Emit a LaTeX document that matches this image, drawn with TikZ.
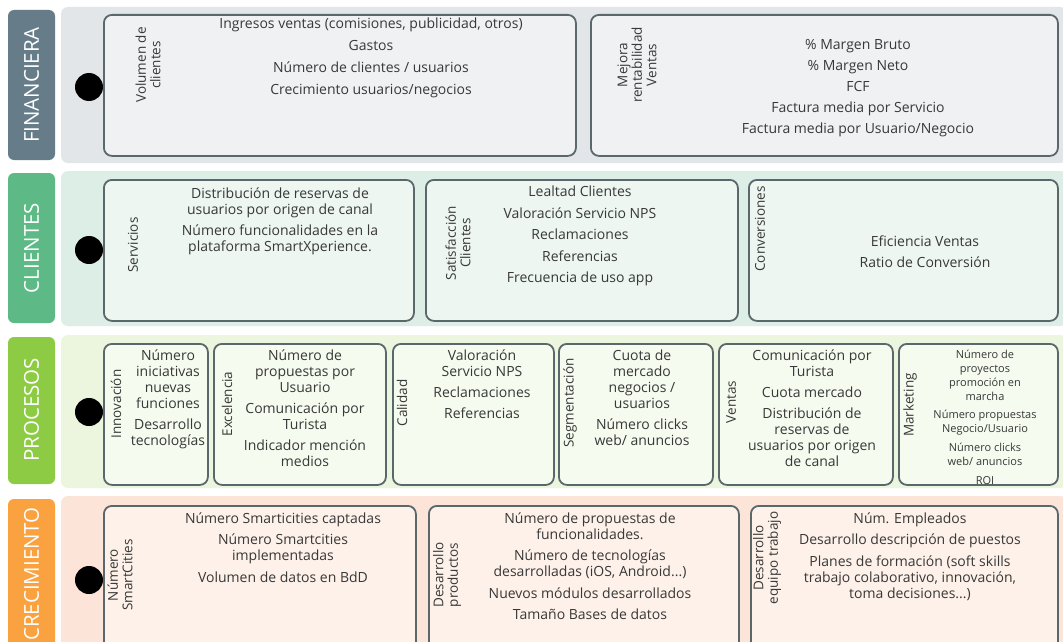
\documentclass[tikz,border=0pt]{standalone}
\usepackage{fontspec}
\setmainfont{Open Sans}

\definecolor{tabfin}{HTML}{667D89}
\definecolor{bandfin}{HTML}{E3E6E8}
\definecolor{boxfin}{HTML}{F0F1F3}
\definecolor{tabcli}{HTML}{5DB985}
\definecolor{bandcli}{HTML}{DCEEE5}
\definecolor{boxcli}{HTML}{EDF6F1}
\definecolor{tabpro}{HTML}{8DCB45}
\definecolor{bandpro}{HTML}{ECF5DE}
\definecolor{boxpro}{HTML}{F6FBEF}
\definecolor{tabcre}{HTML}{F9A23F}
\definecolor{bandcre}{HTML}{FCE5D8}
\definecolor{boxcre}{HTML}{FDF1E9}
\definecolor{boxline}{HTML}{5A686C}
\definecolor{txt}{HTML}{383838}

\begin{document}
\begin{tikzpicture}[x=1pt,y=-1pt,
        band/.style={rounded corners=7pt},
        tab/.style={rounded corners=6pt},
        tabtext/.style={rotate=90,text=white,font=\fontsize{20.5}{20.5}\selectfont},
        kpibox/.style={draw=boxline,line width=1.8pt,rounded corners=8pt,anchor=north west,inner sep=0pt},
        dot/.style={circle,fill=black,minimum size=28pt,inner sep=0pt},
        side/.style={rotate=90,align=center,text=txt,font=\fontsize{13.5}{14.5}\selectfont},
        kpi/.style={anchor=north,inner sep=0pt,align=center,text=txt,font=\fontsize{14}{16}\selectfont},
        kpismall/.style={kpi,font=\fontsize{11}{13.8}\selectfont}]

    \useasboundingbox (0,0) rectangle (1063,642);
    \clip (0,0) rectangle (1063,642);
    \fill[white] (0,0) rectangle (1063,642);

    % FINANCIERA
    \fill[bandfin,band] (61,7) rectangle (1067,163);
    \fill[tabfin,tab] (8,10) rectangle (55,160);
    \node[tabtext] (tfin) at (31.5,85) {FINANCIERA};
    \node[dot] (dfin) at (89,87) {};
    \node[kpibox,fill=boxfin,minimum width=472pt,minimum height=141pt] (fvol) at (103,14) {};
    \node[kpibox,fill=boxfin,minimum width=467pt,minimum height=141pt] (frent) at (590,14) {};
    \node[side] (fvol-l) at (148,65) {Volumen de\\clientes};
    \node[kpi] (fvol-t) at (371,18) {Ingresos ventas (comisiones, publicidad, otros)\\[6pt]
        Gastos\\[6pt] Número de clientes / usuarios\\[6pt] Crecimiento usuarios/negocios};
    \node[side] (frent-l) at (637,65) {Mejora\\rentabilidad\\Ventas};
    \node[kpi] (frent-t) at (858,39.5) {\% Margen Bruto\\[5pt] \% Margen Neto\\[5pt] FCF\\[5pt]
        Factura media por Servicio\\[5pt] Factura media por Usuario/Negocio};

    % CLIENTES
    \fill[bandcli,band] (61,171) rectangle (1067,326);
    \fill[tabcli,tab] (8,173) rectangle (55,323);
    \node[tabtext] (tcli) at (31.5,248) {CLIENTES};
    \node[dot] (dcli) at (89,250) {};
    \node[kpibox,fill=boxcli,minimum width=310pt,minimum height=141pt] (cserv) at (103,179) {};
    \node[kpibox,fill=boxcli,minimum width=312pt,minimum height=141pt] (csat) at (425,179) {};
    \node[kpibox,fill=boxcli,minimum width=309pt,minimum height=141pt] (cconv) at (748,179) {};
    \node[side] (cserv-l) at (133,245) {Servicios};
    \node[kpi] (cserv-t) at (280,188) {Distribución de reservas de\\ usuarios por origen de canal\\[5pt]
        Número funcionalidades en la\\ plataforma SmartXperience.};
    \node[side] (csat-l) at (458,243) {Satisfacción\\Clientes};
    \node[kpi] (csat-t) at (580,186) {Lealtad Clientes\\[5.5pt] Valoración Servicio NPS\\[5.5pt]
        Reclamaciones\\[5.5pt] Referencias\\[5.5pt] Frecuencia de uso app};
    \node[side] (cconv-l) at (760,229) {Conversiones};
    \node[kpi] (cconv-t) at (925,235.5) {Eficiencia Ventas\\[5.5pt] Ratio de Conversión};

    % PROCESOS
    \fill[bandpro,band] (61,335) rectangle (1067,488);
    \fill[tabpro,tab] (8,337) rectangle (55,484);
    \node[tabtext] (tpro) at (31.5,410) {PROCESOS};
    \node[dot] (dpro) at (89,412) {};
    \node[kpibox,fill=boxpro,minimum width=104pt,minimum height=141pt] (pinno) at (103,343) {};
    \node[kpibox,fill=boxpro,minimum width=172pt,minimum height=141pt] (pexc) at (213,343) {};
    \node[kpibox,fill=boxpro,minimum width=161pt,minimum height=141pt] (pcal) at (392,343) {};
    \node[kpibox,fill=boxpro,minimum width=154pt,minimum height=141pt] (pseg) at (558,343) {};
    \node[kpibox,fill=boxpro,minimum width=174pt,minimum height=141pt] (pven) at (718,343) {};
    \node[kpibox,fill=boxpro,minimum width=159pt,minimum height=141pt] (pmkt) at (898,343) {};
    \node[side] (pinno-l) at (116,404) {Innovación};
    \node[kpi] (pinno-t) at (168,349.5) {Número\\ iniciativas\\ nuevas\\ funciones\\[5pt] Desarrollo\\ tecnologías};
    \node[side] (pexc-l) at (227,404) {Excelencia};
    \node[kpi] (pexc-t) at (305,350) {Número de\\ propuestas por\\ Usuario\\[5pt] Comunicación por\\ Turista\\[5pt]
        Indicador mención\\ medios};
    \node[side] (pcal-l) at (402,403) {Calidad};
    \node[kpi] (pcal-t) at (482,349.5) {Valoración\\ Servicio NPS\\[5pt] Reclamaciones\\[5pt] Referencias};
    \node[side] (pseg-l) at (570,403) {Segmentación};
    \node[kpi] (pseg-t) at (642,349.5) {Cuota de\\ mercado\\ negocios /\\ usuarios\\[5pt] Número clicks\\ web/ anuncios};
    \node[side] (pven-l) at (731,402) {Ventas};
    \node[kpi] (pven-t) at (812,349.5) {Comunicación por\\ Turista\\[5pt] Cuota mercado\\[5pt] Distribución de\\
        reservas de\\ usuarios por origen\\ de canal};
    \node[side] (pmkt-l) at (910,405) {Marketing};
    \node[kpismall] (pmkt-t) at (985,350) {Número de\\ proyectos\\ promoción en\\ marcha\\[4.5pt]
        Número propuestas\\ Negocio/Usuario\\[5.5pt] Número clicks\\ web/ anuncios\\[5.5pt] ROI};

    % CRECIMIENTO
    \fill[bandcre,band] (61,496) rectangle (1067,690);
    \fill[tabcre,tab] (8,499) rectangle (55,690);
    \node[tabtext] (tcre) at (31.5,574) {CRECIMIENTO};
    \node[dot] (dcre) at (89,580) {};
    \node[kpibox,fill=boxcre,minimum width=312pt,minimum height=150pt] (gsmart) at (103,505) {};
    \node[kpibox,fill=boxcre,minimum width=310pt,minimum height=150pt] (gprod) at (428,505) {};
    \node[kpibox,fill=boxcre,minimum width=307pt,minimum height=150pt] (gequ) at (750,505) {};
    \node[side] (gsmart-l) at (120,575) {Número\\SmartCities};
    \node[kpi] (gsmart-t) at (283,512.5) {Número Smarticities captadas\\[5.5pt] Número Smartcities\\ implementadas\\[5.5pt]
        Volumen de datos en BdD};
    \node[side] (gprod-l) at (447,575) {Desarrollo\\productos};
    \node[kpi] (gprod-t) at (590,512.5) {Número de propuestas de\\ funcionalidades.\\[5.5pt] Número de tecnologías\\
        desarrolladas (iOS, Android...)\\[5.5pt] Nuevos módulos desarrollados\\[5.5pt] Tamaño Bases de datos};
    \node[side] (gequ-l) at (767,558) {Desarrollo\\equipo trabajo};
    \node[kpi] (gequ-t) at (910,512.5) {Núm. Empleados\\[5.5pt] Desarrollo descripción de puestos\\[5.5pt]
        Planes de formación (soft skills\\ trabajo colaborativo, innovación,\\ toma decisiones...)};
\end{tikzpicture}
\end{document}
